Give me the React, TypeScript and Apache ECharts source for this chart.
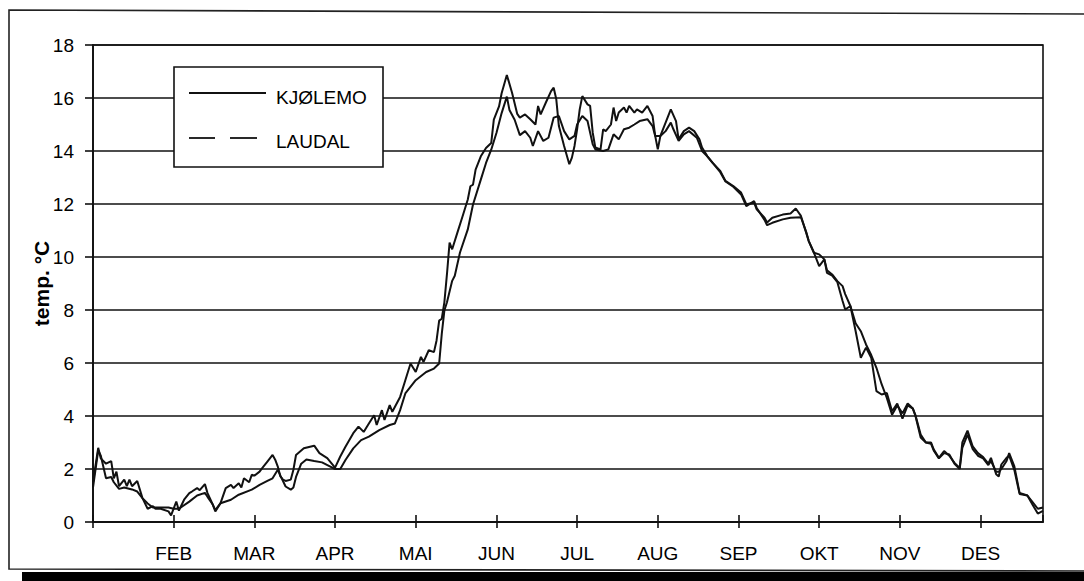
import React, { useEffect, useRef } from "react";
import * as echarts from "echarts";

const monthLabels = ["", "FEB", "MAR", "APR", "MAI", "JUN", "JUL", "AUG", "SEP", "OKT", "NOV", "DES"];
const yTicks = { min: 0, max: 18, interval: 2 };
const seriesNames = ["KJØLEMO", "LAUDAL"];

// [day of year, temperature °C]
const kjolemo: [number, number][] = [
  [0, 1.5], [2, 2.8], [3, 2.4], [5, 2.2], [7, 2.3], [8, 1.65], [9, 1.9], [10, 1.35], [12, 1.6], [13, 1.35],
  [14, 1.6], [15, 1.35], [17, 1.55], [19, 0.9], [21, 0.5], [23, 0.6], [24, 0.5], [26, 0.5], [29, 0.4], [30, 0.25],
  [32, 0.77], [33, 0.43], [35, 0.84], [37, 1.09], [38, 1.15], [40, 1.28], [41, 1.2], [43, 1.43], [44, 1.09], [46, 0.66],
  [47, 0.4], [49, 0.71], [51, 1.28], [53, 1.4], [54, 1.28], [56, 1.46], [57, 1.3], [58, 1.65], [60, 1.5], [61, 1.78],
  [62, 1.75], [64, 1.9], [65, 2.03], [67, 2.28], [69, 2.53], [70, 2.35], [71, 2.09], [72, 1.72], [73, 1.6], [74, 1.55],
  [76, 1.6], [77, 1.97], [78, 2.53], [81, 2.78], [85, 2.88], [87, 2.6], [90, 2.41], [93, 2.05], [95, 2.47], [97, 2.84],
  [100, 3.35], [102, 3.6], [104, 3.4], [106, 3.72], [108, 4.03], [109, 3.66], [111, 4.22], [112, 3.85], [114, 4.41], [115, 4.16],
  [118, 4.72], [120, 5.35], [122, 5.98], [124, 5.66], [126, 6.23], [127, 6.04], [129, 6.48], [131, 6.41], [132, 6.85], [133, 7.6],
  [134, 7.67], [135, 8.29], [136, 9.36], [137, 10.54], [138, 10.29], [140, 10.92], [142, 11.54], [144, 12.17], [145, 12.67], [146, 12.73],
  [147, 13.3], [149, 13.8], [151, 14.11], [153, 14.3], [154, 15.18], [156, 15.68], [157, 16.18], [159, 16.87], [161, 16.2], [163, 15.4],
  [164, 15.26], [166, 15.38], [168, 15.2], [170, 15.0], [171, 15.7], [172, 15.38], [174, 15.83], [176, 16.26], [177, 16.39], [178, 15.95],
  [179, 14.94], [181, 14.19], [183, 13.5], [184, 13.75], [185, 14.19], [186, 14.82], [187, 15.57], [188, 16.07], [190, 15.76], [191, 15.7],
  [192, 14.69], [193, 14.13], [195, 14.06], [196, 14.82], [197, 14.75], [199, 15.0], [200, 15.64], [201, 15.13], [202, 15.45], [204, 15.64],
  [205, 15.45], [206, 15.7], [208, 15.45], [209, 15.57], [211, 15.45], [213, 15.7], [215, 15.32], [216, 14.57], [217, 14.06], [218, 14.57],
  [220, 15.07], [222, 15.57], [224, 15.13], [225, 14.44], [227, 14.75], [229, 14.88], [231, 14.75], [233, 14.44], [234, 14.13], [236, 13.81],
  [238, 13.56], [241, 13.25], [243, 12.87], [246, 12.68], [249, 12.43], [251, 11.99], [254, 12.05], [255, 11.8], [258, 11.48], [259, 11.3],
  [261, 11.48], [265, 11.6], [268, 11.64], [270, 11.83], [272, 11.55], [274, 10.92], [275, 10.6], [277, 10.16], [279, 10.1], [281, 9.91],
  [282, 9.5], [284, 9.34], [286, 9.09], [288, 8.9], [289, 8.6], [291, 8.15], [293, 7.5], [295, 7.2], [297, 6.7], [299, 6.3],
  [301, 5.82], [303, 5.2], [305, 4.68], [307, 4.05], [309, 4.4], [311, 4.1], [313, 4.47], [315, 4.28], [316, 4.03], [318, 3.3],
  [320, 3.0], [322, 3.0], [323, 2.74], [325, 2.42], [327, 2.68], [329, 2.5], [331, 2.23], [333, 2.04], [334, 3.0], [336, 3.45],
  [338, 2.85], [340, 2.6], [342, 2.45], [344, 2.2], [345, 2.42], [347, 1.8], [348, 1.72], [349, 2.17], [351, 2.42], [352, 2.5],
  [354, 1.96], [356, 1.06], [359, 1.0], [361, 0.75], [363, 0.5], [365, 0.55],
];

const laudal: [number, number][] = [
  [0, 1.3], [2, 2.7], [3, 2.5], [5, 1.65], [7, 1.7], [8, 1.5], [10, 1.25], [12, 1.3], [15, 1.23], [17, 1.15],
  [19, 0.9], [21, 0.7], [23, 0.55], [26, 0.55], [29, 0.55], [31, 0.5], [33, 0.5], [37, 0.77], [40, 1.0], [43, 1.1],
  [44, 0.95], [46, 0.66], [47, 0.45], [49, 0.71], [53, 0.84], [56, 1.03], [61, 1.22], [64, 1.4], [67, 1.55], [69, 1.65],
  [71, 1.97], [72, 1.75], [74, 1.34], [76, 1.22], [77, 1.3], [78, 1.7], [80, 2.2], [82, 2.36], [85, 2.3], [88, 2.25],
  [91, 2.1], [93, 2.0], [95, 2.0], [97, 2.34], [100, 2.78], [103, 3.09], [106, 3.22], [110, 3.47], [114, 3.66], [116, 3.72],
  [118, 4.22], [120, 4.85], [124, 5.35], [128, 5.66], [131, 5.79], [133, 5.98], [134, 7.1], [135, 7.98], [136, 8.29], [138, 9.1],
  [139, 9.29], [141, 10.17], [144, 11.04], [146, 11.98], [149, 12.92], [151, 13.55], [153, 14.05], [155, 14.68], [157, 15.43], [159, 16.05],
  [160, 15.55], [162, 15.18], [164, 14.6], [166, 14.75], [168, 14.5], [169, 14.19], [171, 14.75], [173, 14.38], [175, 14.5], [177, 15.26],
  [179, 15.32], [181, 14.75], [183, 14.44], [185, 14.57], [186, 15.0], [188, 15.32], [190, 15.13], [192, 14.25], [193, 14.06], [196, 14.0],
  [198, 14.06], [200, 14.63], [202, 14.44], [204, 14.82], [206, 14.88], [208, 15.0], [210, 15.13], [213, 15.2], [215, 14.94], [216, 14.57],
  [218, 14.57], [220, 14.75], [222, 15.07], [223, 14.82], [225, 14.38], [227, 14.63], [229, 14.75], [232, 14.5], [234, 14.0], [236, 13.8],
  [238, 13.56], [241, 13.2], [243, 12.85], [246, 12.65], [249, 12.36], [251, 11.92], [254, 12.11], [255, 11.85], [258, 11.4], [259, 11.2],
  [261, 11.29], [265, 11.42], [268, 11.48], [272, 11.5], [274, 10.95], [275, 10.6], [277, 10.16], [279, 9.66], [281, 9.91], [282, 9.4],
  [284, 9.3], [286, 9.05], [288, 8.34], [289, 8.02], [291, 8.15], [293, 7.21], [295, 6.2], [297, 6.58], [299, 6.2], [301, 4.94],
  [303, 4.81], [305, 4.87], [307, 4.18], [309, 4.47], [311, 3.9], [313, 4.4], [315, 4.28], [316, 4.0], [318, 3.19], [320, 3.0],
  [322, 2.95], [323, 2.7], [325, 2.4], [327, 2.6], [329, 2.55], [331, 2.2], [333, 2.0], [334, 2.8], [336, 3.3], [338, 2.75],
  [340, 2.5], [342, 2.4], [344, 2.15], [345, 2.3], [347, 1.9], [348, 1.9], [349, 2.0], [351, 2.3], [352, 2.6], [354, 2.1],
  [356, 1.1], [359, 1.0], [361, 0.65], [363, 0.32], [365, 0.42],
];

const INK = "#111";
const FONT = "'Liberation Sans', Arial, sans-serif";

export default function App() {
  const ref = useRef<HTMLDivElement>(null);
  useEffect(() => {
    if (!ref.current) return;
    const chart = echarts.init(ref.current, undefined, { renderer: "svg" });
    const xCommon = {
      type: "value" as const,
      min: 0,
      max: 365,
      interval: 31,
      splitLine: { show: false },
    };
    chart.setOption({
      animation: false,
      backgroundColor: "#fff",
      textStyle: { fontFamily: FONT, color: "#000" },
      grid: {
        left: 93,
        right: 41,
        top: 45,
        bottom: 59,
        show: true,
        borderColor: INK,
        borderWidth: 1.6,
        backgroundColor: "transparent",
      },
      xAxis: [
        {
          ...xCommon,
          position: "bottom",
          axisLine: { show: true, lineStyle: { color: INK, width: 1.8 } },
          axisTick: { show: true, inside: false, length: 6, lineStyle: { color: INK, width: 1.6 } },
          axisLabel: {
            show: true,
            margin: 22,
            fontSize: 19,
            color: "#000",
            fontFamily: FONT,
            showMaxLabel: false,
            formatter: (v: number) => {
              const i = Math.round(v / 31);
              return Math.abs(v - i * 31) < 0.01 ? monthLabels[i] ?? "" : "";
            },
          },
        },
        {
          ...xCommon,
          position: "bottom",
          axisLine: { show: false },
          axisTick: { show: true, inside: true, length: 7, lineStyle: { color: INK, width: 1.6 } },
          axisLabel: { show: false },
        },
      ],
      yAxis: {
        type: "value",
        min: yTicks.min,
        max: yTicks.max,
        interval: yTicks.interval,
        name: "temp. °C",
        nameLocation: "middle",
        nameGap: 41,
        nameMoveOverlap: false,
        nameTextStyle: { fontSize: 21, fontWeight: "bold", color: "#000", fontFamily: FONT },
        axisLine: { show: true, lineStyle: { color: INK, width: 1.8 } },
        axisTick: { show: true, inside: false, length: 8, lineStyle: { color: INK, width: 1.6 } },
        axisLabel: { fontSize: 19, color: "#000", margin: 19, fontFamily: FONT },
        splitLine: { show: true, lineStyle: { color: INK, width: 1.7 } },
      },
      series: [
        {
          name: seriesNames[0],
          type: "line",
          xAxisIndex: 0,
          data: kjolemo,
          symbol: "none",
          lineStyle: { color: INK, width: 2 },
          z: 3,
        },
        {
          name: seriesNames[1],
          type: "line",
          xAxisIndex: 0,
          data: laudal,
          symbol: "none",
          lineStyle: { color: INK, width: 2 },
          z: 3,
        },
      ],
      graphic: [
        {
          type: "polygon",
          z: 100,
          silent: true,
          shape: { points: [[9, 10], [1100, 14], [1100, 571], [9, 569]] },
          style: { fill: "none", stroke: "#222", lineWidth: 1.6 },
        },
        {
          type: "rect",
          z: 100,
          silent: true,
          shape: { x: 22, y: 572, width: 1070, height: 12 },
          style: { fill: "#000" },
        },
        {
          type: "group",
          z: 100,
          children: [
            {
              type: "rect",
              z: 100,
              shape: { x: 174, y: 67, width: 209, height: 100 },
              style: { fill: "#fff", stroke: INK, lineWidth: 1.6 },
            },
            {
              type: "line",
              z: 101,
              shape: { x1: 189, y1: 93, x2: 266, y2: 93 },
              style: { stroke: INK, lineWidth: 1.8 },
            },
            {
              type: "line",
              z: 101,
              shape: { x1: 189, y1: 138, x2: 215, y2: 138 },
              style: { stroke: INK, lineWidth: 1.8 },
            },
            {
              type: "line",
              z: 101,
              shape: { x1: 230, y1: 138, x2: 257, y2: 138 },
              style: { stroke: INK, lineWidth: 1.8 },
            },
            {
              type: "text",
              z: 101,
              x: 276,
              y: 97,
              style: { text: seriesNames[0], fontSize: 19, fontFamily: FONT, fill: "#000", verticalAlign: "middle", align: "left" },
            },
            {
              type: "text",
              z: 101,
              x: 276,
              y: 141,
              style: { text: seriesNames[1], fontSize: 19, fontFamily: FONT, fill: "#000", verticalAlign: "middle", align: "left" },
            },
          ],
        },
      ],
    });
    return () => chart.dispose();
  }, []);
  return (
    <div
      ref={ref}
      style={{ position: "fixed", left: 0, top: 0, width: 1084, height: 581, background: "#fff" }}
    />
  );
}
